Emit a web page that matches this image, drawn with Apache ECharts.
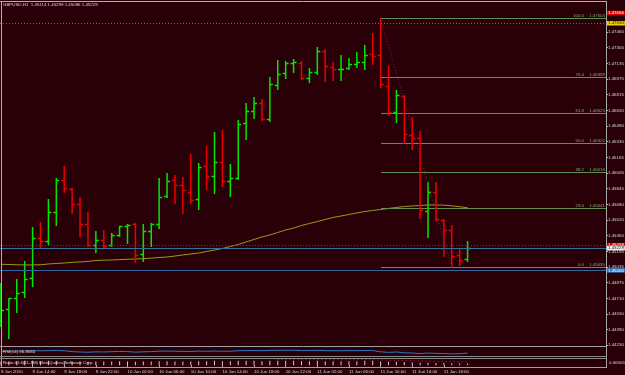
<!DOCTYPE html>
<html><head><meta charset="utf-8">
<script src="https://cdn.jsdelivr.net/npm/echarts@6/dist/echarts.min.js"></script>
<style>html,body{margin:0;padding:0;background:#2a0008;}#c{width:625px;height:375px;}</style>
</head><body><div id="c"></div>
<script>
// ---------- data ----------
const symbolTitle = 'GBPUSD,H1  1.45114 1.45299 1.45096 1.45229';
const rsiTitle = 'RSI(14) 36.8680';
const ratioTitle = 'Ratio:41.6(11-1M) MetaQuotes Software Corp.';
const ratioScaleLabel = '0.00505';

const hours = [
 '9 Jun 10:00','9 Jun 11:00','9 Jun 12:00','9 Jun 13:00','9 Jun 14:00','9 Jun 15:00','9 Jun 16:00','9 Jun 17:00',
 '9 Jun 18:00','9 Jun 19:00','9 Jun 20:00','9 Jun 21:00','9 Jun 22:00','9 Jun 23:00',
 '10 Jun 00:00','10 Jun 01:00','10 Jun 02:00','10 Jun 03:00','10 Jun 04:00','10 Jun 05:00','10 Jun 06:00','10 Jun 07:00',
 '10 Jun 08:00','10 Jun 09:00','10 Jun 10:00','10 Jun 11:00','10 Jun 12:00','10 Jun 13:00','10 Jun 14:00','10 Jun 15:00',
 '10 Jun 16:00','10 Jun 17:00','10 Jun 18:00','10 Jun 19:00','10 Jun 20:00','10 Jun 21:00','10 Jun 22:00','10 Jun 23:00',
 '11 Jun 00:00','11 Jun 01:00','11 Jun 02:00','11 Jun 03:00','11 Jun 04:00','11 Jun 05:00','11 Jun 06:00','11 Jun 07:00',
 '11 Jun 08:00','11 Jun 09:00','11 Jun 10:00','11 Jun 11:00','11 Jun 12:00','11 Jun 13:00','11 Jun 14:00','11 Jun 15:00',
 '11 Jun 16:00','11 Jun 17:00','11 Jun 18:00','11 Jun 19:00','11 Jun 20:00','11 Jun 21:00'
];
const opens = [1.44488,1.44602,1.44715,1.44777,1.44921,1.45334,1.45303,1.45602,1.45933,1.45840,
 1.45685,1.45479,1.45262,1.45314,1.45262,1.45365,1.45458,1.45479,1.45169,1.45406,
 1.45479,1.45768,1.45933,1.45881,1.45809,1.45737,1.46077,1.45974,1.46118,1.45922,
 1.45953,1.46521,1.46646,1.46727,1.46562,1.46913,1.47037,1.47140,1.47140,1.46985,
 1.47047,1.47264,1.47099,1.47078,1.47088,1.47130,1.47150,1.47233,1.47223,1.46903,
 1.46634,1.46799,1.46397,1.46366,1.45613,1.45809,1.45520,1.45417,1.45159,1.45114];
const highs = [1.44870,1.44715,1.44911,1.45097,1.45448,1.45499,1.45737,1.45953,1.46077,1.45850,
 1.45757,1.45602,1.45406,1.45417,1.45386,1.45458,1.45479,1.45489,1.45479,1.45489,
 1.45953,1.46005,1.45984,1.45964,1.46201,1.46108,1.46284,1.46428,1.46449,1.46098,
 1.46552,1.46727,1.46789,1.46769,1.46996,1.47171,1.47161,1.47181,1.47161,1.47088,
 1.47305,1.47284,1.47150,1.47223,1.47192,1.47253,1.47327,1.47450,1.47604,1.47109,
 1.46861,1.46810,1.46583,1.46438,1.45912,1.45912,1.45525,1.45468,1.45231,1.45299];
const lows = [1.44426,1.44302,1.44571,1.44725,1.44839,1.45231,1.45272,1.45468,1.45809,1.45592,
 1.45355,1.45252,1.45190,1.45231,1.45252,1.45355,1.45283,1.45087,1.45097,1.45252,
 1.45437,1.45757,1.45695,1.45592,1.45695,1.45633,1.45840,1.45799,1.45871,1.45768,
 1.45943,1.46356,1.46572,1.46552,1.46541,1.46872,1.46985,1.47047,1.46975,1.46944,
 1.47026,1.46954,1.46965,1.46965,1.47078,1.47099,1.47078,1.47130,1.46892,1.46603,
 1.46531,1.46314,1.46253,1.45541,1.45345,1.45520,1.45148,1.45035,1.45056,1.45096];
const closes = [1.44591,1.44715,1.44767,1.44911,1.45334,1.45303,1.45602,1.45933,1.45850,1.45685,
 1.45479,1.45262,1.45314,1.45252,1.45365,1.45458,1.45468,1.45159,1.45406,1.45479,
 1.45757,1.45922,1.45881,1.45829,1.45726,1.46067,1.45974,1.46118,1.45922,1.45953,
 1.46511,1.46646,1.46727,1.46562,1.46923,1.47026,1.47140,1.47150,1.46985,1.47047,
 1.47264,1.47109,1.47078,1.47080,1.47130,1.47150,1.47223,1.47212,1.46923,1.46634,
 1.46810,1.46407,1.46366,1.45623,1.45809,1.45530,1.45417,1.45148,1.45107,1.45229];
const movingAverage = [1.45063,1.45061,1.45058,1.45056,1.45056,1.45058,1.45066,1.45071,1.45076,1.45083,
 1.45087,1.45092,1.45102,1.45105,1.45107,1.45111,1.45115,1.45117,1.45121,1.45126,
 1.45133,1.45138,1.45148,1.45159,1.45169,1.45179,1.45195,1.45210,1.45226,1.45246,
 1.45267,1.45293,1.45319,1.45345,1.45365,1.45391,1.45417,1.45437,1.45463,1.45484,
 1.45504,1.45525,1.45546,1.45561,1.45577,1.45592,1.45608,1.45618,1.45628,1.45639,
 1.45649,1.45659,1.45664,1.45670,1.45675,1.45675,1.45673,1.45666,1.45657,1.45646];
const rsiValues = [58,60,61,63,66,65,67,69,66,55,
 50,47,52,50,54,57,55,48,52,55,
 60,62,60,58,57,61,59,62,59,60,
 66,68,69,66,70,71,72,72,68,69,
 71,67,66,66,67,67,69,68,52,45,
 50,40,38,30,37,33,31,27,28,36.868];
const ratioBars = [0.6,0.6,0.65,0.7,0.7,0.65,0.7,0.7,0.65,0.6,
 0.6,0.55,0.6,0.6,0.6,0.65,0.6,0.55,0.6,0.6,
 0.65,0.65,0.6,0.6,0.6,0.65,0.65,0.7,0.65,0.65,
 0.7,0.7,0.7,0.65,0.7,0.7,0.7,0.7,0.65,0.65,
 0.7,0.65,0.65,0.65,0.65,0.65,0.7,0.7,0.6,0.55,
 0.55,0.5,0.45,0.4,0.4,0.35,0.35,0.3,0.25,0.25];
const ratioSignal = [null,null,null,null,null,null,null,null,null,null,
 null,null,null,null,null,null,null,null,null,null,
 null,null,null,null,null,null,null,null,null,null,
 null,null,null,null,null,0.92,0.92,0.9,0.9,0.9,
 0.92,0.9,0.9,0.88,0.88,0.9,0.9,0.88,0.85,0.8,
 0.78,0.75,0.72,0.7,0.66,0.62,0.6,0.58,0.55,0.55];
const priceTicks = ['1.44230','1.44390','1.44550','1.44710','1.44875','1.45035','1.45195','1.45360','1.45520',
 '1.45680','1.45845','1.46005','1.46165','1.46330','1.46490','1.46650','1.46815','1.46975','1.47135','1.47300','1.47460'];
const timeLabels = ['9 Jun 2010','9 Jun 14:00','9 Jun 18:00','9 Jun 22:00','10 Jun 02:00','10 Jun 06:00','10 Jun 10:00',
 '10 Jun 14:00','10 Jun 18:00','10 Jun 22:00','11 Jun 02:00','11 Jun 06:00','11 Jun 10:00','11 Jun 14:00','11 Jun 18:00'];
const fibLevels = [0, 23.6, 38.2, 50.0, 61.8, 76.4, 100.0];
const fibHigh = 1.47604, fibLow = 1.45035;
const fibHighBar = 48, fibLowBar = 57;
const alertHigh = 1.47656, alertLevel = 1.47550;
const askPrice = 1.45259, bidPrice = 1.45229, roundLevel = 1.45000;

// ---------- layout / style ----------
const FONT = 'Liberation Sans';
const FS = 4.4;
const BULL = '#00e800', BEAR = '#e80000';
const futureSlots = 17;
const categories = hours.slice();
for (let k = 1; k <= futureSlots; k++) categories.push('next' + k);
const labelEvery = (i) => i % 4 === 0 && i < hours.length;

const bars = hours.map((h, i) => [i, opens[i], highs[i], lows[i], closes[i]]);
const fibData = fibLevels.map(lv => [fibHighBar, fibLow + (fibHigh - fibLow) * lv / 100, lv]);

function renderBar(params, api) {
  const i = api.value(0), o = api.value(1), h = api.value(2), l = api.value(3), c = api.value(4);
  const ph = api.coord([i, h]), pl = api.coord([i, l]), po = api.coord([i, o]), pc = api.coord([i, c]);
  const x = ph[0];
  const st = { stroke: c >= o ? BULL : BEAR, lineWidth: 1.5 };
  const yo = Math.round(po[1]) + 0.5, yc = Math.round(pc[1]) + 0.5;
  return { type: 'group', children: [
    { type: 'line', shape: { x1: x, y1: Math.round(ph[1]), x2: x, y2: Math.round(pl[1]) + 1 }, style: st },
    { type: 'line', shape: { x1: x - 3, y1: yo, x2: x, y2: yo }, style: st },
    { type: 'line', shape: { x1: x, y1: yc, x2: x + 3, y2: yc }, style: st }
  ]};
}
function renderFib(params, api) {
  const p = api.coord([api.value(0), api.value(1)]);
  const lv = api.value(2);
  const right = params.coordSys.x + params.coordSys.width;
  const y = Math.round(p[1]) + 0.5;
  const ts = { fill: '#7aa86a', font: FS + 'px ' + FONT, align: 'right', verticalAlign: 'bottom' };
  return { type: 'group', children: [
    { type: 'line', shape: { x1: Math.round(p[0]), y1: y, x2: right, y2: y }, style: { stroke: '#5f9050', lineWidth: 1 } },
    { type: 'text', x: right - 22, y: y - 0.5, style: Object.assign({ text: lv.toFixed(1) }, ts) },
    { type: 'text', x: right - 1, y: y - 0.5, style: Object.assign({ text: api.value(1).toFixed(5) }, ts) }
  ]};
}
function boxLabel(bg, fg) {
  return { show: true, position: 'end', distance: 1, formatter: p => Number(p.value).toFixed(5),
    backgroundColor: bg, color: fg, fontSize: FS, fontFamily: FONT, padding: [0.5, 1, 0, 1] };
}
const txt = (t, left, top) => ({ text: t, left: left, top: top, padding: 0,
  textStyle: { fontSize: FS, color: '#d8d8d8', fontWeight: 'normal', fontFamily: FONT } });
const hl = (x1, y1, x2, y2, col) => ({ type: 'line', z: 100, silent: true,
  shape: { x1, y1, x2, y2 }, style: { stroke: col, lineWidth: 1 } });

const chart = echarts.init(document.getElementById('c'), null, { renderer: 'canvas' });
chart.setOption({
  backgroundColor: '#2a0008',
  animation: false,
  title: [txt(symbolTitle, 3, 3), txt(rsiTitle, 3, 349.5), txt(ratioTitle, 3, 360.5), txt(ratioScaleLabel, 609, 360.5)],
  grid: [
    { left: -3, right: 19, top: 3, height: 342, outerBoundsMode: 'none' },
    { left: -3, right: 19, top: 348, height: 8, outerBoundsMode: 'none' },
    { left: -3, right: 19, top: 359, height: 8, outerBoundsMode: 'none' }
  ],
  xAxis: [
    { type: 'category', gridIndex: 0, data: categories, show: false },
    { type: 'category', gridIndex: 1, data: categories, show: false },
    { type: 'category', gridIndex: 2, data: categories,
      axisLine: { show: false },
      axisTick: { show: true, interval: labelEvery, alignWithLabel: true, length: 2, lineStyle: { color: '#b8b8b8' } },
      axisLabel: { interval: labelEvery, formatter: (v, i) => timeLabels[i / 4], align: 'left',
        fontSize: FS, fontFamily: FONT, color: '#d8d8d8', margin: 3 } }
  ],
  yAxis: [
    { type: 'value', gridIndex: 0, position: 'right', min: 1.4423, max: 1.47759,
      axisLine: { show: false }, splitLine: { show: false },
      axisTick: { show: true, length: 2, lineStyle: { color: '#b8b8b8' }, customValues: priceTicks.map(Number) },
      axisLabel: { customValues: priceTicks.map(Number), formatter: v => v.toFixed(5), fontSize: FS,
        fontFamily: FONT, color: '#d8d8d8', margin: 2, overflow: 'none', hideOverlap: false,
        showMinLabel: true, showMaxLabel: true } },
    { type: 'value', gridIndex: 1, min: 0, max: 100, show: false },
    { type: 'value', gridIndex: 2, min: -0.3, max: 1, show: false }
  ],
  series: [
    { type: 'line', name: 'MA', xAxisIndex: 0, yAxisIndex: 0, data: movingAverage, showSymbol: false, z: 1,
      lineStyle: { color: '#9a9a1c', width: 1 }, silent: true,
      markLine: { silent: true, precision: 5, symbol: ['none', 'none'], label: { show: false },
        data: [
          { yAxis: alertLevel, lineStyle: { type: [1, 2], color: '#3d8c3d', width: 1 }, label: boxLabel('#e8d400', '#111') },
          { yAxis: alertHigh, lineStyle: { color: 'rgba(0,0,0,0)', width: 1 }, label: boxLabel('#e00000', '#fff') },
          { yAxis: roundLevel, lineStyle: { type: 'solid', color: '#2f66a0', width: 1 }, label: boxLabel('#3a78c0', '#fff') },
          { yAxis: askPrice, lineStyle: { type: [1, 2], color: '#8a2a5a', width: 1 }, label: boxLabel('#e00000', '#fff') },
          { yAxis: bidPrice, lineStyle: { type: 'solid', color: '#3b6f98', width: 1 }, label: boxLabel('#f0f0f0', '#111') },
          [ { coord: [fibHighBar, fibHigh], lineStyle: { type: [1, 2], color: '#a01040', width: 1 } },
            { coord: [fibLowBar, fibLow] } ]
        ] } },
    { type: 'custom', name: 'Fibo', xAxisIndex: 0, yAxisIndex: 0, data: fibData, renderItem: renderFib,
      encode: { x: 0, y: 1 }, z: 2, silent: true },
    { type: 'custom', name: 'GBPUSD', xAxisIndex: 0, yAxisIndex: 0, data: bars, renderItem: renderBar,
      encode: { x: 0, y: [1, 2, 3, 4] }, z: 3, silent: true },
    { type: 'line', name: 'RSI', xAxisIndex: 1, yAxisIndex: 1, data: rsiValues, showSymbol: false,
      lineStyle: { color: '#2a78c8', width: 1 }, silent: true },
    { type: 'bar', name: 'Ratio', xAxisIndex: 2, yAxisIndex: 2, data: ratioBars, barWidth: 1,
      itemStyle: { color: '#d0d0d0' }, silent: true },
    { type: 'line', name: 'RatioSignal', xAxisIndex: 2, yAxisIndex: 2, data: ratioSignal, showSymbol: false,
      lineStyle: { color: '#d02040', width: 1, type: [1, 3] }, silent: true }
  ],
  graphic: [
    hl(0, 1.5, 607, 1.5, '#b0b0b0'),
    hl(1.5, 1, 1.5, 368, '#b0b0b0'),
    hl(606.5, 1, 606.5, 368, '#a8a8a8'),
    hl(0, 346.5, 607, 346.5, '#a0a0a0'),
    hl(0, 356.5, 607, 356.5, '#8a8a8a'),
    hl(0, 358.5, 607, 358.5, '#8a8a8a'),
    hl(0, 367.5, 607, 367.5, '#a0a0a0')
  ]
});
</script></body></html>
